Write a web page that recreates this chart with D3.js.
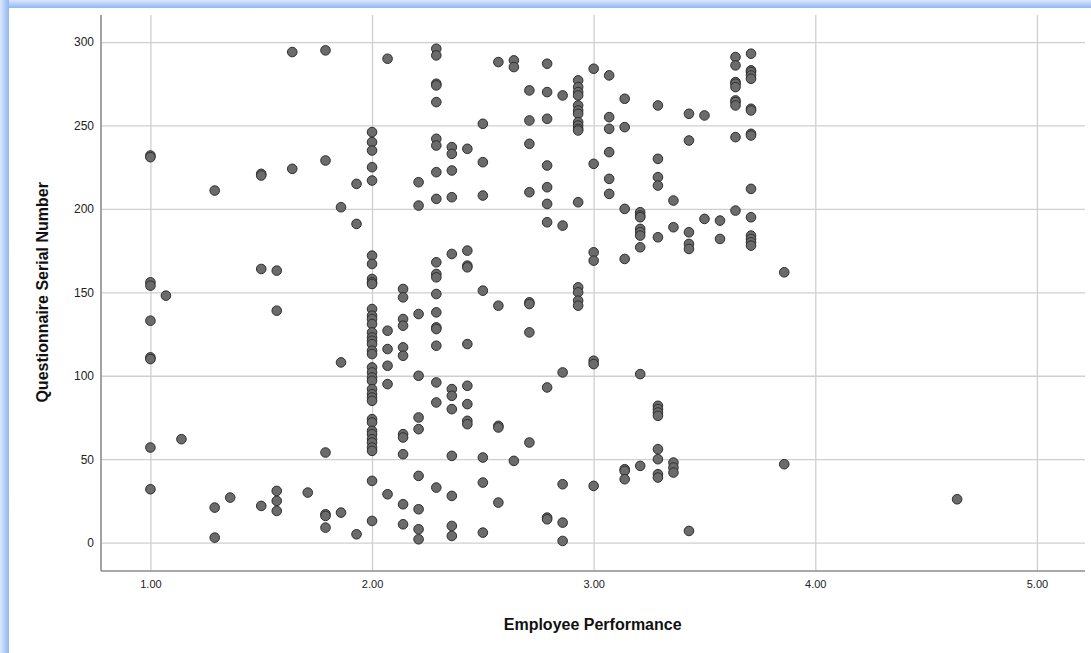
<!DOCTYPE html>
<html>
<head>
<meta charset="utf-8">
<script src="https://cdn.jsdelivr.net/npm/d3@7"></script>
<style>
  html, body { margin: 0; padding: 0; background: #ffffff; }
  svg { display: block; }
</style>
</head>
<body>
<div id="chart"></div>
<script>
// Employee Performance score levels (x) and the questionnaire serial numbers seen at each level (y)
const perfScores = [
  1.00, 1.07, 1.14, 1.29, 1.36, 1.50, 1.57, 1.64, 1.71, 1.79, 1.86, 1.93,
  2.00, 2.07, 2.14, 2.21, 2.29, 2.36, 2.43, 2.50, 2.57, 2.64, 2.71, 2.79, 2.86, 2.93,
  3.00, 3.07, 3.14, 3.21, 3.29, 3.36, 3.43, 3.50, 3.57, 3.64, 3.71, 3.86, 4.64
];
const serialsByScore = [
  [232, 231, 156, 154, 133, 111, 110, 57, 32],
  [148],
  [62],
  [211, 21, 3],
  [27],
  [221, 220, 164, 22],
  [163, 139, 31, 25, 19],
  [294, 224],
  [30],
  [295, 229, 54, 17, 16, 9],
  [201, 108, 18],
  [215, 191, 5],
  [246, 240, 235, 225, 217, 172, 167, 158, 156, 155, 140, 136, 134, 131, 126, 123, 121, 119,
   115, 113, 105, 102, 99, 97, 92, 89, 87, 85, 74, 72, 67, 65, 62, 60, 57, 55, 37, 13],
  [290, 127, 116, 106, 95, 29],
  [152, 147, 134, 130, 117, 112, 65, 63, 53, 23, 11],
  [216, 202, 137, 100, 75, 68, 40, 20, 8, 2],
  [296, 292, 275, 274, 264, 242, 238, 222, 206, 168, 161, 159, 149, 138, 129, 128, 118, 96, 84, 33],
  [237, 233, 223, 207, 173, 92, 88, 80, 52, 28, 10, 4],
  [236, 175, 166, 165, 119, 94, 83, 73, 71],
  [251, 228, 208, 151, 51, 36, 6],
  [288, 142, 70, 69, 24],
  [289, 285, 49],
  [271, 253, 239, 210, 144, 143, 126, 60],
  [287, 270, 254, 226, 213, 203, 192, 93, 15, 14],
  [268, 190, 102, 35, 12, 1],
  [277, 273, 270, 268, 262, 259, 257, 252, 250, 248, 247, 204, 153, 150, 145, 142],
  [284, 227, 174, 169, 109, 107, 34],
  [280, 255, 248, 234, 218, 209],
  [266, 249, 200, 170, 44, 43, 38],
  [198, 196, 195, 188, 186, 184, 177, 101, 46],
  [262, 230, 219, 214, 183, 82, 80, 78, 76, 56, 50, 41, 39],
  [205, 189, 48, 45, 42],
  [257, 241, 186, 179, 176, 7],
  [256, 194],
  [193, 182],
  [291, 286, 276, 275, 273, 265, 264, 262, 243, 199],
  [293, 283, 282, 280, 278, 260, 259, 245, 244, 212, 195, 184, 182, 180, 178],
  [162, 47],
  [26]
];
const xTicks = [1, 2, 3, 4, 5];
const yTicks = [0, 50, 100, 150, 200, 250, 300];
const xTitle = 'Employee Performance';
const yTitle = 'Questionnaire Serial Number';

const width = 1091;
const height = 653;
const margin = { top: 15, right: 6, bottom: 82, left: 101 };
const innerW = width - margin.left - margin.right;
const innerH = height - margin.top - margin.bottom;

const points = [];
perfScores.forEach((s, i) => {
  serialsByScore[i].forEach(n => points.push({ x: s, y: n }));
});

const svg = d3.select('#chart')
  .append('svg')
  .attr('width', width)
  .attr('height', height)
  .style('font-family', 'Arial, "Liberation Sans", sans-serif');

// window frame (light blue edge on the left and top)
const defs = svg.append('defs');
const gTop = defs.append('linearGradient').attr('id', 'frameTop')
  .attr('x1', 0).attr('y1', 0).attr('x2', 0).attr('y2', 1);
gTop.append('stop').attr('offset', '0%').attr('stop-color', '#dbe8fb');
gTop.append('stop').attr('offset', '100%').attr('stop-color', '#8fb6f2');
const gLeft = defs.append('linearGradient').attr('id', 'frameLeft')
  .attr('x1', 0).attr('y1', 0).attr('x2', 1).attr('y2', 0);
gLeft.append('stop').attr('offset', '0%').attr('stop-color', '#dbe8fb');
gLeft.append('stop').attr('offset', '100%').attr('stop-color', '#8fb6f2');

svg.append('rect').attr('x', 0).attr('y', 0).attr('width', width).attr('height', 8)
  .attr('fill', 'url(#frameTop)');
svg.append('rect').attr('x', 0).attr('y', 0).attr('width', 9).attr('height', height)
  .attr('fill', 'url(#frameLeft)');

const g = svg.append('g')
  .attr('transform', `translate(${margin.left},${margin.top})`);

const x = d3.scaleLinear().domain([0.777, 5.217]).range([0, innerW]);
const y = d3.scaleLinear().domain([-17, 316.2]).range([innerH, 0]);

// grid lines
g.append('g')
  .attr('class', 'grid')
  .call(d3.axisLeft(y).tickValues(yTicks).tickSize(-innerW).tickFormat(''))
  .call(a => a.select('.domain').remove())
  .call(a => a.selectAll('line').attr('stroke', '#cfcfcf').attr('stroke-width', 1.3));

g.append('g')
  .attr('class', 'grid')
  .attr('transform', `translate(0,${innerH})`)
  .call(d3.axisBottom(x).tickValues(xTicks).tickSize(innerH).tickFormat(''))
  .call(a => a.select('.domain').remove())
  .call(a => a.selectAll('line').attr('y2', -innerH).attr('stroke', '#cfcfcf').attr('stroke-width', 1.3));

// axes: labels only, no tick marks
const yAxis = g.append('g')
  .call(d3.axisLeft(y).tickValues(yTicks).tickSize(0).tickPadding(7).tickFormat(d3.format('d')));
yAxis.select('.domain').remove();
yAxis.selectAll('text').attr('font-size', 12).attr('fill', '#222').attr('font-family', null);

const xAxis = g.append('g')
  .attr('transform', `translate(0,${innerH})`)
  .call(d3.axisBottom(x).tickValues(xTicks).tickSize(0).tickPadding(9).tickFormat(d3.format('.2f')));
xAxis.select('.domain').remove();
xAxis.selectAll('text').attr('font-size', 11).attr('fill', '#222').attr('font-family', null);

// axis lines
g.append('line').attr('x1', 0).attr('x2', 0).attr('y1', 0).attr('y2', innerH)
  .attr('stroke', '#8c8c8c').attr('stroke-width', 1.6);
g.append('line').attr('x1', 0).attr('x2', innerW).attr('y1', innerH).attr('y2', innerH)
  .attr('stroke', '#8c8c8c').attr('stroke-width', 1.6);

// points
g.append('g')
  .selectAll('circle')
  .data(points)
  .enter()
  .append('circle')
  .attr('cx', d => x(d.x))
  .attr('cy', d => y(d.y))
  .attr('r', 4.8)
  .attr('fill', '#6b6b6b')
  .attr('stroke', '#2e2e2e')
  .attr('stroke-width', 1);

// axis titles
svg.append('text')
  .attr('x', margin.left + x(3) - 1)
  .attr('y', 630)
  .attr('text-anchor', 'middle')
  .attr('font-size', 16)
  .attr('font-weight', 'bold')
  .attr('fill', '#111')
  .text(xTitle);

svg.append('text')
  .attr('transform', `translate(48,${margin.top + y(150)}) rotate(-90)`)
  .attr('text-anchor', 'middle')
  .attr('font-size', 16)
  .attr('font-weight', 'bold')
  .attr('fill', '#111')
  .text(yTitle);
</script>
</body>
</html>
